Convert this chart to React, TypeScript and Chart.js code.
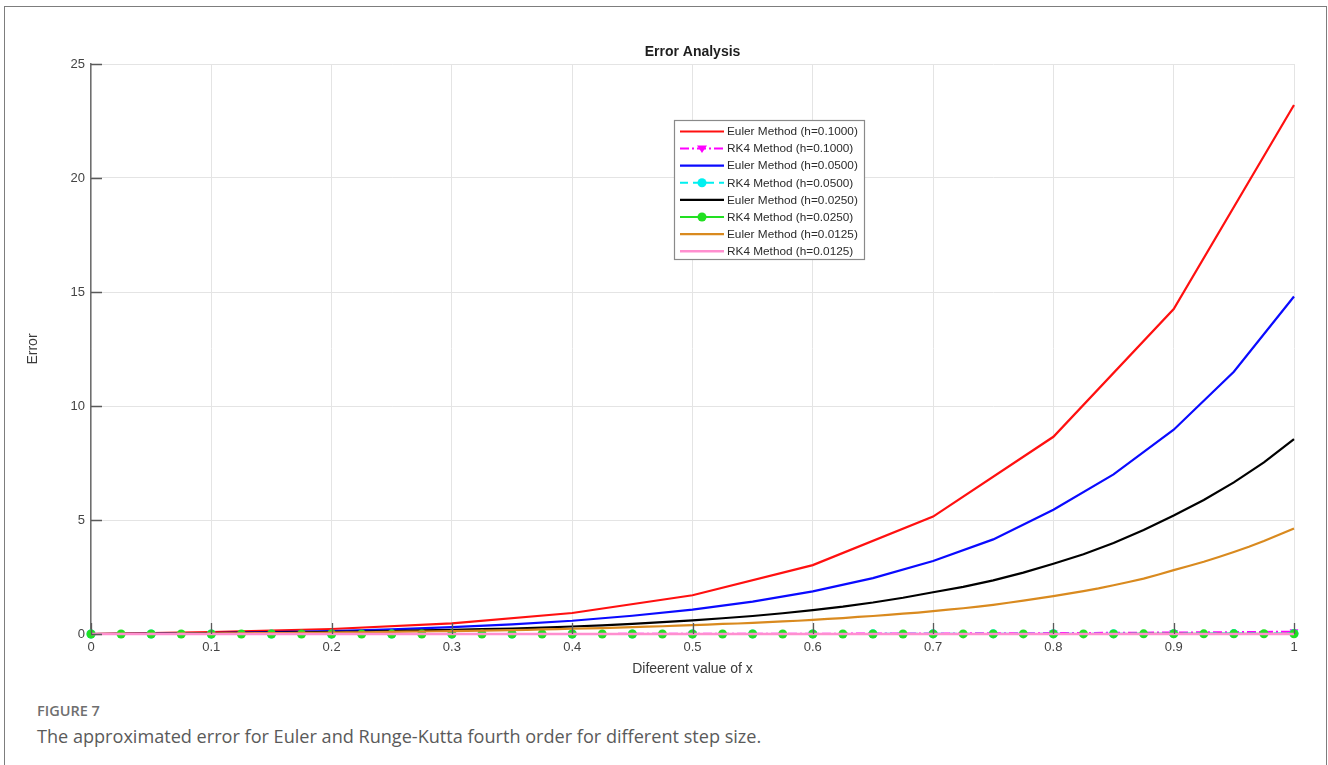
import React, { useEffect, useRef } from "react";
import { Chart, registerables } from "chart.js";

Chart.register(...registerables);

const FONT = "'Liberation Sans', Arial, Helvetica, sans-serif";

// Axis tick labels
const xTickLabels = ["0", "0.1", "0.2", "0.3", "0.4", "0.5", "0.6", "0.7", "0.8", "0.9", "1"];
const yTickLabels = ["0", "5", "10", "15", "20", "25"];

// Step sizes used by each method pair
const stepSizes = [0.1, 0.05, 0.025, 0.0125];

// Absolute error of Euler's method and RK4 for each step size
const eulerH100 = [0, 0.08, 0.22, 0.47, 0.92, 1.7, 3.02, 5.15, 8.65, 14.25, 23.2];
const rk4H100 = [0, 0.0003, 0.001, 0.002, 0.004, 0.008, 0.014, 0.024, 0.04, 0.065, 0.1];

const eulerH050 = [
  0, 0.015, 0.04, 0.08, 0.13, 0.2, 0.3, 0.42, 0.58, 0.8, 1.07,
  1.42, 1.87, 2.45, 3.2, 4.15, 5.45, 7.0, 8.96, 11.5, 14.8,
];
const rk4H050 = [
  0, 0.0001, 0.0002, 0.0003, 0.0005, 0.0007, 0.001, 0.0013, 0.0017, 0.0022, 0.0028,
  0.0035, 0.0044, 0.0055, 0.0068, 0.0084, 0.0104, 0.0128, 0.0157, 0.0192, 0.0235,
];

const eulerH025 = [
  0, 0.005, 0.012, 0.022,
  0.035, 0.045, 0.058, 0.073,
  0.09, 0.11, 0.13, 0.155,
  0.18, 0.21, 0.24, 0.28,
  0.33, 0.38, 0.44, 0.52,
  0.6, 0.69, 0.79, 0.91,
  1.05, 1.2, 1.38, 1.59,
  1.83, 2.07, 2.35, 2.69,
  3.08, 3.5, 3.99, 4.56,
  5.2, 5.88, 6.65, 7.53,
  8.55,
];
const rk4H025 = [
  0.0, 0.0, 0.0, 0.0001, 0.0001,
  0.0001, 0.0001, 0.0002, 0.0002, 0.0002,
  0.0003, 0.0003, 0.0004, 0.0004, 0.0005,
  0.0005, 0.0006, 0.0007, 0.0008, 0.0009,
  0.001, 0.0011, 0.0012, 0.0014, 0.0016,
  0.0018, 0.002, 0.0022, 0.0025, 0.0028,
  0.0031, 0.0035, 0.0039, 0.0044, 0.0049,
  0.0055, 0.0061, 0.0068, 0.0076, 0.0085, 0.0095,
];

const eulerH0125 = [
  0, 0.002, 0.004, 0.006, 0.008, 0.011, 0.013, 0.016, 0.02,
  0.024, 0.029, 0.034, 0.039, 0.044, 0.049, 0.055, 0.06,
  0.068, 0.076, 0.085, 0.094, 0.1, 0.11, 0.12, 0.13,
  0.14, 0.15, 0.16, 0.17, 0.185, 0.2, 0.215, 0.23,
  0.245, 0.26, 0.28, 0.3, 0.32, 0.34, 0.365, 0.39,
  0.41, 0.44, 0.46, 0.49, 0.52, 0.55, 0.58, 0.62,
  0.66, 0.7, 0.75, 0.79, 0.84, 0.89, 0.94, 1.0,
  1.065, 1.13, 1.2, 1.28, 1.37, 1.46, 1.56, 1.66,
  1.77, 1.88, 2.0, 2.14, 2.28, 2.43, 2.61, 2.8,
  2.98, 3.17, 3.38, 3.6, 3.83, 4.08, 4.35, 4.63,
];
const rk4H0125 = [
  0.0, 0.0, 0.00001, 0.00001, 0.00001, 0.00002, 0.00002, 0.00002, 0.00003,
  0.00003, 0.00004, 0.00004, 0.00005, 0.00005, 0.00006, 0.00006, 0.00007, 0.00008,
  0.00008, 0.00009, 0.0001, 0.00011, 0.00012, 0.00013, 0.00014, 0.00015, 0.00016,
  0.00017, 0.00018, 0.0002, 0.00021, 0.00023, 0.00024, 0.00026, 0.00028, 0.0003,
  0.00032, 0.00034, 0.00036, 0.00039, 0.00041, 0.00044, 0.00047, 0.0005, 0.00053,
  0.00057, 0.00061, 0.00065, 0.00069, 0.00073, 0.00078, 0.00083, 0.00088, 0.00094,
  0.001, 0.00106, 0.00113, 0.0012, 0.00128, 0.00136, 0.00144, 0.00153, 0.00163,
  0.00173, 0.00184, 0.00195, 0.00207, 0.0022, 0.00234, 0.00248, 0.00263, 0.00279,
  0.00296, 0.00314, 0.00333, 0.00353, 0.00374, 0.00397, 0.00421, 0.00446, 0.00473,
];

const seriesLabels = [
  "Euler Method (h=0.1000)",
  "RK4 Method (h=0.1000)",
  "Euler Method (h=0.0500)",
  "RK4 Method (h=0.0500)",
  "Euler Method (h=0.0250)",
  "RK4 Method (h=0.0250)",
  "Euler Method (h=0.0125)",
  "RK4 Method (h=0.0125)",
];

// Pair each value with its grid position x = i*h
const toPoints = (vals: number[], h: number) =>
  vals.map((y, i) => ({ x: +(i * h).toFixed(5), y }));

type Style = {
  color: string;
  dash: number[];
  width: number;
  marker: false | "circle" | "triangle";
  radius: number;
  rotation: number;
};

const styles: Style[] = [
  { color: "#ff1010", dash: [], width: 2.2, marker: false, radius: 0, rotation: 0 },
  { color: "#ff00ff", dash: [9, 3, 2, 3], width: 2, marker: "triangle", radius: 5, rotation: 180 },
  { color: "#0a0aff", dash: [], width: 2.2, marker: false, radius: 0, rotation: 0 },
  { color: "#00f0f0", dash: [8, 5], width: 2, marker: "circle", radius: 4.5, rotation: 0 },
  { color: "#000000", dash: [], width: 2.2, marker: false, radius: 0, rotation: 0 },
  { color: "#22e022", dash: [], width: 2, marker: "circle", radius: 4.5, rotation: 0 },
  { color: "#d98a1f", dash: [], width: 2.2, marker: false, radius: 0, rotation: 0 },
  { color: "#ff8fcf", dash: [], width: 2.5, marker: false, radius: 0, rotation: 0 },
];

const seriesValues = [eulerH100, rk4H100, eulerH050, rk4H050, eulerH025, rk4H025, eulerH0125, rk4H0125];

// Inward-pointing tick marks on the left and bottom axes
const tickMarks = {
  id: "tickMarks",
  afterDraw(chart: any) {
    const { ctx, chartArea, scales } = chart;
    ctx.save();
    ctx.strokeStyle = "#5a5a5a";
    ctx.lineWidth = 1.3;
    ctx.beginPath();
    scales.x.ticks.forEach((t: any) => {
      const px = Math.round(scales.x.getPixelForValue(t.value)) + 0.5;
      ctx.moveTo(px, chartArea.bottom);
      ctx.lineTo(px, chartArea.bottom - 11);
    });
    scales.y.ticks.forEach((t: any) => {
      const py = Math.round(scales.y.getPixelForValue(t.value)) + 0.5;
      ctx.moveTo(chartArea.left, py);
      ctx.lineTo(chartArea.left + 11, py);
    });
    ctx.stroke();
    ctx.restore();
  },
};

function drawMarker(ctx: CanvasRenderingContext2D, s: Style, x: number, y: number) {
  if (!s.marker) return;
  ctx.fillStyle = s.color;
  ctx.beginPath();
  if (s.marker === "circle") {
    ctx.arc(x, y, s.radius, 0, Math.PI * 2);
  } else {
    const r = s.radius;
    ctx.moveTo(x - r, y - r * 0.6);
    ctx.lineTo(x + r, y - r * 0.6);
    ctx.lineTo(x, y + r * 0.9);
    ctx.closePath();
  }
  ctx.fill();
}

// Boxed legend placed inside the plot area
const boxLegend = {
  id: "boxLegend",
  afterDraw(chart: any) {
    const { ctx, chartArea } = chart;
    const bx = chartArea.left + 583;
    const by = chartArea.top + 56;
    const bw = 190;
    const bh = 139;
    ctx.save();
    ctx.fillStyle = "#ffffff";
    ctx.fillRect(bx, by, bw, bh);
    ctx.strokeStyle = "#8a8a8a";
    ctx.lineWidth = 1.2;
    ctx.strokeRect(bx + 0.5, by + 0.5, bw, bh);
    ctx.font = `11.8px ${FONT}`;
    ctx.textBaseline = "middle";
    seriesLabels.forEach((label, i) => {
      const s = styles[i];
      const y = by + 11.5 + i * 17.1;
      ctx.strokeStyle = s.color;
      ctx.lineWidth = s.width;
      ctx.setLineDash(s.dash);
      ctx.beginPath();
      ctx.moveTo(bx + 6, y);
      ctx.lineTo(bx + 50, y);
      ctx.stroke();
      ctx.setLineDash([]);
      drawMarker(ctx, s, bx + 28, y);
      ctx.fillStyle = "#2b2b2b";
      ctx.fillText(label, bx + 53, y + 0.5);
    });
    ctx.restore();
  },
};

export default function App() {
  const canvasRef = useRef<HTMLCanvasElement | null>(null);

  useEffect(() => {
    if (!canvasRef.current) return;
    const datasets = seriesValues.map((vals, i) => {
      const s = styles[i];
      const h = stepSizes[Math.floor(i / 2)];
      return {
        label: seriesLabels[i],
        data: toPoints(vals, h),
        borderColor: s.color,
        backgroundColor: s.color,
        borderWidth: s.width,
        borderDash: s.dash,
        pointRadius: s.marker ? s.radius : 0,
        pointStyle: s.marker || "circle",
        pointRotation: s.rotation,
        pointBackgroundColor: s.color,
        pointBorderColor: s.color,
        pointBorderWidth: 0,
        tension: 0,
        clip: false as const,
        order: seriesValues.length - i,
      };
    });

    const chart = new Chart(canvasRef.current, {
      type: "line",
      data: { datasets },
      options: {
        animation: false,
        responsive: false,
        devicePixelRatio: 1,
        events: [],
        layout: { padding: { left: 0, right: 34, top: 0, bottom: 16 } },
        plugins: {
          legend: { display: false },
          tooltip: { enabled: false },
          title: {
            display: true,
            fullSize: false,
            text: "Error Analysis",
            color: "#1e1e1e",
            font: { family: FONT, size: 14, weight: "bold" },
            padding: { top: 44, bottom: 3.2 },
          },
        },
        scales: {
          x: {
            type: "linear",
            min: 0,
            max: 1,
            afterFit: (scale: any) => {
              scale.height = 50;
            },
            ticks: {
              stepSize: 0.1,
              autoSkip: false,
              maxRotation: 0,
              padding: 6,
              color: "#444444",
              font: { family: FONT, size: 13 },
              callback: (v: any) => xTickLabels[Math.round(Number(v) * 10)],
            },
            grid: { color: "#e4e4e4", lineWidth: 1, drawTicks: false },
            border: { display: true, color: "#6e6e6e", width: 1.5 },
            title: {
              display: true,
              text: "Difeerent value of x",
              color: "#3a3a3a",
              font: { family: FONT, size: 14 },
              padding: { top: 0, bottom: 6.6 },
            },
          },
          y: {
            type: "linear",
            min: 0,
            max: 25,
            afterFit: (scale: any) => {
              scale.width = 91;
            },
            ticks: {
              stepSize: 5,
              padding: 6,
              color: "#444444",
              font: { family: FONT, size: 13 },
              callback: (v: any) => yTickLabels[Math.round(Number(v) / 5)],
            },
            grid: { color: "#e4e4e4", lineWidth: 1, drawTicks: false },
            border: { display: true, color: "#6e6e6e", width: 1.5 },
            title: {
              display: true,
              text: "Error",
              color: "#3a3a3a",
              font: { family: FONT, size: 14 },
              padding: { top: 24.6, bottom: 0 },
            },
          },
        },
      },
      plugins: [tickMarks, boxLegend],
    });
    return () => chart.destroy();
  }, []);

  return (
    <div
      style={{
        position: "absolute",
        left: 0,
        top: 0,
        width: 1328,
        height: 765,
        overflow: "hidden",
        background: "#ffffff",
      }}
    >
      <div
        style={{
          position: "absolute",
          left: 4,
          top: 6,
          width: 1323,
          height: 800,
          boxSizing: "border-box",
          border: "1.6px solid #7d7d7d",
        }}
      />
      <canvas
        ref={canvasRef}
        width={1328}
        height={700}
        style={{ position: "absolute", left: 0, top: 0, width: 1328, height: 700 }}
      />
      <div
        style={{
          position: "absolute",
          left: 37,
          top: 701,
          fontFamily: "'Open Sans', 'Noto Sans', sans-serif",
          fontWeight: 600,
          fontSize: 14.5,
          color: "#6f6f6f",
          lineHeight: "20px",
          whiteSpace: "nowrap",
        }}
      >
        FIGURE 7
      </div>
      <div
        style={{
          position: "absolute",
          left: 37,
          top: 723,
          fontFamily: "'Open Sans', 'Noto Sans', sans-serif",
          fontSize: 18.1,
          color: "#5a5a5a",
          lineHeight: "26px",
          whiteSpace: "nowrap",
        }}
      >
        The approximated error for Euler and Runge-Kutta fourth order for different step size.
      </div>
    </div>
  );
}
